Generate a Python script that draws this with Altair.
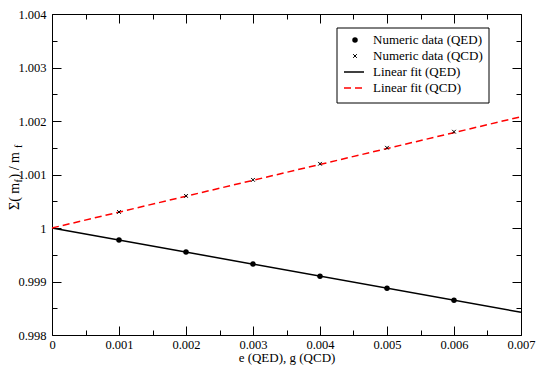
import altair as alt
import pandas as pd

FONT = "Liberation Serif, Times New Roman, DejaVu Serif, serif"

# ---- data ----
x_pts = [0.001, 0.002, 0.003, 0.004, 0.005, 0.006]
qed_vals = [0.999775, 0.99955, 0.999325, 0.9991, 0.998875, 0.99865]
qcd_vals = [1.0003, 1.0006, 1.0009, 1.0012, 1.0015, 1.0018]
fit_x = [0.0, 0.007]
qed_fit = [1.0, 0.998425]
qcd_fit = [1.0, 1.00208]

x_major = [0, 0.001, 0.002, 0.003, 0.004, 0.005, 0.006, 0.007]
x_minor = [0.0005, 0.0015, 0.0025, 0.0035, 0.0045, 0.0055, 0.0065]
y_major = [0.998, 0.999, 1.0, 1.001, 1.002, 1.003, 1.004]
y_minor = [0.9985, 0.9995, 1.0005, 1.0015, 1.0025, 1.0035]

legend_labels = ["Numeric data (QED)", "Numeric data (QCD)",
                 "Linear fit (QED)", "Linear fit (QCD)"]
x_title = "e (QED), g (QCD)"

PL, PT = 44, 6
W, H = 469, 321
OX, OY = 8 + PL, 8 + PT  # page position of plot's top-left corner

pts = pd.DataFrame({"x": x_pts, "qed": qed_vals, "qcd": qcd_vals})
fits = pd.DataFrame({"x": fit_x, "qed": qed_fit, "qcd": qcd_fit})

xs = alt.Scale(domain=[0, 0.007], nice=False, zero=False)
ys = alt.Scale(domain=[0.998, 1.004], nice=False, zero=False)


def ax(orient, values, size, labels, title=None, pad=3):
    kw = dict(orient=orient, values=values, tickSize=size, offset=-size,
              labels=labels, domain=False, grid=False, ticks=True,
              tickColor="black", tickWidth=1, format="~g",
              labelFont=FONT, labelFontSize=12.5, labelColor="black",
              labelPadding=pad, labelFlush=False, labelOverlap=False)
    if title:
        kw.update(title=title, titleFont=FONT, titleFontSize=13,
                  titleFontWeight="normal", titleColor="black", titlePadding=1)
    else:
        kw.update(title=None)
    return alt.Axis(**kw)


fit_qed = alt.Chart(fits).mark_line(color="black", strokeWidth=1.5).encode(
    x=alt.X("x:Q", scale=xs, axis=ax("bottom", x_minor, 5, False)),
    y=alt.Y("qed:Q", scale=ys, axis=ax("left", y_minor, 5, False)),
)
fit_qcd = alt.Chart(fits).mark_line(color="#ff0000", strokeWidth=1.5,
                                    strokeDash=[7, 4]).encode(
    x=alt.X("x:Q", scale=xs, axis=ax("top", x_minor, 5, False)),
    y=alt.Y("qcd:Q", scale=ys, axis=ax("right", y_minor, 5, False)),
)
pt_qed = alt.Chart(pts).mark_point(filled=True, shape="circle", size=30,
                                   color="black", opacity=1).encode(
    x=alt.X("x:Q", scale=xs, axis=ax("bottom", x_major, 9, True, x_title, 3)),
    y=alt.Y("qed:Q", scale=ys, axis=ax("left", y_major, 9, True, None, 6)),
)
pt_qcd = alt.Chart(pts).mark_point(shape="M-1,-1L1,1M-1,1L1,-1", filled=False,
                                   size=14, color="black", strokeWidth=1,
                                   opacity=1).encode(
    x=alt.X("x:Q", scale=xs, axis=ax("top", x_major, 9, False)),
    y=alt.Y("qcd:Q", scale=ys, axis=ax("right", y_major, 9, False)),
)

# ---- legend (positions given in page pixels, shifted into plot space) ----
one = pd.DataFrame({"k": [0]})
ly = [40 - OY, 56 - OY, 72 - OY, 88 - OY]
box = alt.Chart(one).mark_rect(fill="white", stroke="black", strokeWidth=1).encode(
    x=alt.value(337 - OX), x2=alt.value(489 - OX),
    y=alt.value(28 - OY), y2=alt.value(103 - OY))
leg_txt = alt.Chart(pd.DataFrame({"label": legend_labels, "py": ly})).mark_text(
    align="left", baseline="middle", font=FONT, fontSize=13, color="black").encode(
    x=alt.value(373 - OX), y=alt.Y("py:Q", scale=None, axis=None), text="label:N")
leg_c = alt.Chart(one).mark_point(filled=True, shape="circle", size=30,
                                  color="black", opacity=1).encode(
    x=alt.value(355 - OX), y=alt.value(ly[0]))
leg_x = alt.Chart(one).mark_point(shape="M-1,-1L1,1M-1,1L1,-1", filled=False,
                                  size=14, color="black", strokeWidth=1,
                                  opacity=1).encode(
    x=alt.value(355 - OX), y=alt.value(ly[1]))
leg_l1 = alt.Chart(one).mark_rule(color="black", strokeWidth=1.5).encode(
    x=alt.value(344 - OX), x2=alt.value(364 - OX), y=alt.value(ly[2]))
leg_l2 = alt.Chart(one).mark_rule(color="#ff0000", strokeWidth=1.5,
                                  strokeDash=[7, 4]).encode(
    x=alt.value(344 - OX), x2=alt.value(364 - OX), y=alt.value(ly[3]))

# ---- y title with subscripts (rotated, reading upward) ----
yt_pieces = [("Σ( m", 14, 0, 0), ("f", 10, 27.5, 3),
             (" ) / m", 14, 31.5, 0), ("f", 10, 62, 3)]
Y0 = 210 - OY   # bottom end of the rotated title
BX = 19 - OX    # baseline x
yt_layers = []
for txt, fs, off, dx in yt_pieces:
    yt_layers.append(
        alt.Chart(pd.DataFrame({"t": [txt]})).mark_text(
            align="left", baseline="alphabetic", angle=270, font=FONT,
            fontSize=fs, color="black").encode(
            x=alt.value(BX + dx), y=alt.value(Y0 - off), text="t:N"))

chart = alt.layer(
    fit_qed, fit_qcd, pt_qed, pt_qcd, box, leg_txt, leg_c, leg_x, leg_l1,
    leg_l2, *yt_layers
).resolve_axis(x="independent", y="independent").properties(
    width=W, height=H,
    autosize=alt.AutoSizeParams(type="none"),
    padding={"left": PL, "top": PT, "right": 16, "bottom": 30},
).configure_view(stroke="black", strokeWidth=1)

chart.save("out.html", embed_options={"renderer": "svg", "actions": False})
